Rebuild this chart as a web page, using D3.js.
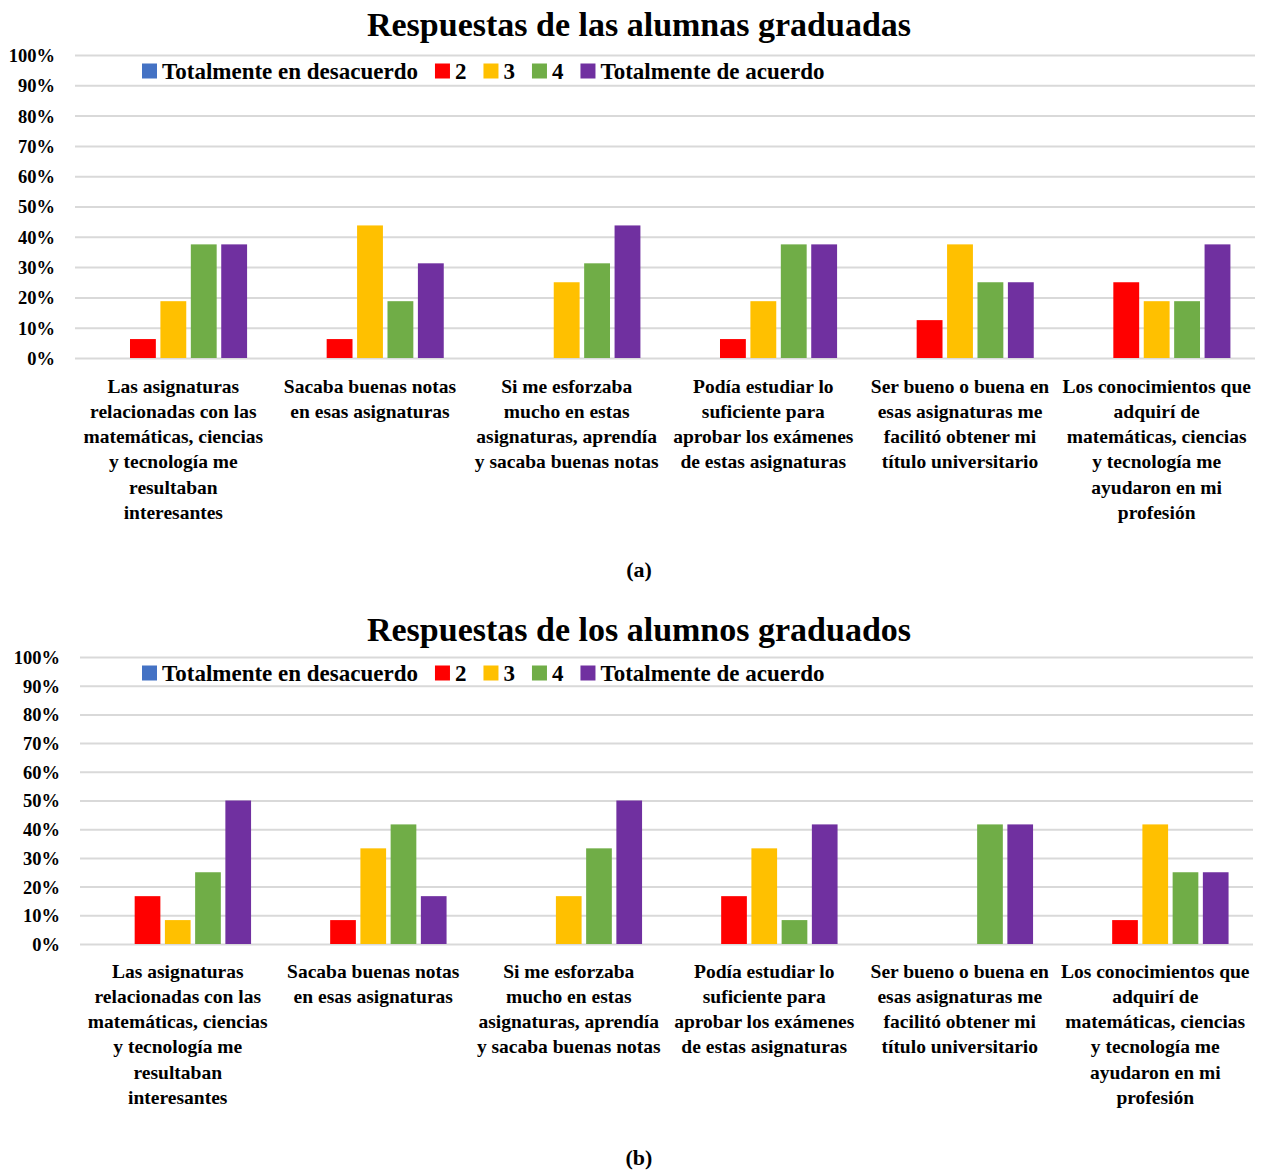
<!DOCTYPE html>
<html>
<head>
<meta charset="utf-8">
<script src="https://cdn.jsdelivr.net/npm/d3@7"></script>
<style>
  html, body { margin: 0; padding: 0; background: #fff; }
  svg { display: block; }
  text { font-family: "Palatino Linotype", "Book Antiqua", Palatino, "Liberation Serif", serif; font-weight: bold; fill: #000; }
</style>
</head>
<body>
<svg id="chart" width="1268" height="1171"></svg>
<script>
// Survey statements (x-axis categories), already broken into lines
const categories = [
  ["Las asignaturas", "relacionadas con las", "matemáticas, ciencias", "y tecnología me", "resultaban", "interesantes"],
  ["Sacaba buenas notas", "en esas asignaturas"],
  ["Si me esforzaba", "mucho en estas", "asignaturas, aprendía", "y sacaba buenas notas"],
  ["Podía estudiar lo", "suficiente para", "aprobar los exámenes", "de estas asignaturas"],
  ["Ser bueno o buena en", "esas asignaturas me", "facilitó obtener mi", "título universitario"],
  ["Los conocimientos que", "adquirí de", "matemáticas, ciencias", "y tecnología me", "ayudaron en mi", "profesión"]
];

// Likert scale answers (series)
const seriesNames = ["Totalmente en desacuerdo", "2", "3", "4", "Totalmente de acuerdo"];
const seriesColors = ["#4472C4", "#FF0000", "#FFC000", "#70AD47", "#7030A0"];

// Percentages for female graduates, one array per answer
const alumnas1 = [0, 0, 0, 0, 0, 0];
const alumnas2 = [6.25, 6.25, 0, 6.25, 12.5, 25];
const alumnas3 = [18.75, 43.75, 25, 18.75, 37.5, 18.75];
const alumnas4 = [37.5, 18.75, 31.25, 37.5, 25, 18.75];
const alumnas5 = [37.5, 31.25, 43.75, 37.5, 25, 37.5];

// Percentages for male graduates, one array per answer
const alumnos1 = [0, 0, 0, 0, 0, 0];
const alumnos2 = [16.67, 8.33, 0, 16.67, 0, 8.33];
const alumnos3 = [8.33, 33.33, 16.67, 33.33, 0, 41.67];
const alumnos4 = [25, 41.67, 33.33, 8.33, 41.67, 25];
const alumnos5 = [50, 16.67, 50, 41.67, 41.67, 25];

const yTicks = [0, 10, 20, 30, 40, 50, 60, 70, 80, 90, 100];

const svg = d3.select("#chart");

function drawPanel(cfg) {
  const g = svg.append("g");
  const seriesValues = cfg.values;

  const y = d3.scaleLinear().domain([0, 100]).range([cfg.bottom, cfg.top]);
  const x0 = d3.scaleBand().domain(d3.range(categories.length))
    .range([cfg.left, cfg.right]).paddingInner(0.25).paddingOuter(0.125);
  const x1 = d3.scaleBand().domain(d3.range(seriesNames.length))
    .range([0, x0.bandwidth()]).paddingInner(0.15);

  // Horizontal gridlines
  const grid = g.append("g")
    .attr("transform", `translate(${cfg.left},0)`)
    .call(d3.axisLeft(y).tickValues(yTicks).tickSize(-(cfg.right - cfg.left)).tickFormat(""));
  grid.select(".domain").remove();
  grid.selectAll("line").attr("stroke", "#d9d9d9").attr("stroke-width", 2);

  // Y tick labels
  const yAxis = g.append("g")
    .attr("transform", `translate(${cfg.labelRight},0)`)
    .call(d3.axisLeft(y).tickValues(yTicks).tickSize(0).tickPadding(0).tickFormat(d => d + "%"));
  yAxis.select(".domain").remove();
  yAxis.selectAll("text").attr("font-size", 18.5).attr("fill", "#000")
    .style("font-family", null).attr("dy", "0.35em");

  // Bars
  const groups = g.append("g").selectAll("g")
    .data(categories.map((c, i) => i))
    .join("g")
    .attr("transform", i => `translate(${x0(i)},0)`);
  groups.selectAll("rect")
    .data(i => seriesValues.map((vals, s) => ({ s, v: vals[i] })))
    .join("rect")
    .attr("x", d => x1(d.s))
    .attr("width", x1.bandwidth())
    .attr("y", d => y(d.v))
    .attr("height", d => cfg.bottom - y(d.v))
    .attr("fill", d => seriesColors[d.s]);

  // Category labels
  const cat = g.append("g").selectAll("text")
    .data(categories.map((lines, i) => ({ lines, i })))
    .join("text")
    .attr("text-anchor", "middle")
    .attr("font-size", 19.5)
    .attr("x", d => x0(d.i) + x0.bandwidth() / 2);
  cat.selectAll("tspan")
    .data(d => d.lines.map(l => ({ l, x: x0(d.i) + x0.bandwidth() / 2 })))
    .join("tspan")
    .attr("x", d => d.x)
    .attr("y", (d, k) => cfg.catY + k * 25.2)
    .attr("dy", "0.35em")
    .text(d => d.l);

  // Title
  g.append("text")
    .attr("x", 639).attr("y", cfg.titleY).attr("dy", "0.35em")
    .attr("text-anchor", "middle").attr("font-size", 34)
    .text(cfg.title);

  // Legend
  const legend = g.append("g").attr("transform", `translate(${cfg.legendX},${cfg.legendY})`);
  let lx = 0;
  seriesNames.forEach((name, s) => {
    legend.append("rect").attr("x", lx).attr("y", -7.5).attr("width", 15).attr("height", 15)
      .attr("fill", seriesColors[s]);
    const t = legend.append("text").attr("x", lx + 20).attr("y", 0).attr("dy", "0.35em")
      .attr("font-size", 23).text(name);
    lx += 20 + t.node().getComputedTextLength() + 17;
  });

  // Panel caption
  g.append("text")
    .attr("x", 639).attr("y", cfg.captionY).attr("dy", "0.35em")
    .attr("text-anchor", "middle").attr("font-size", 22)
    .text(cfg.caption);
}

drawPanel({
  title: "Respuestas de las alumnas graduadas",
  caption: "(a)",
  values: [alumnas1, alumnas2, alumnas3, alumnas4, alumnas5],
  left: 75, right: 1255, top: 55, bottom: 358,
  labelRight: 55, titleY: 24, legendX: 142, legendY: 71,
  catY: 386, captionY: 569
});

drawPanel({
  title: "Respuestas de los alumnos graduados",
  caption: "(b)",
  values: [alumnos1, alumnos2, alumnos3, alumnos4, alumnos5],
  left: 80, right: 1253, top: 657, bottom: 944,
  labelRight: 60, titleY: 629, legendX: 142, legendY: 673,
  catY: 971, captionY: 1157
});
</script>
</body>
</html>
